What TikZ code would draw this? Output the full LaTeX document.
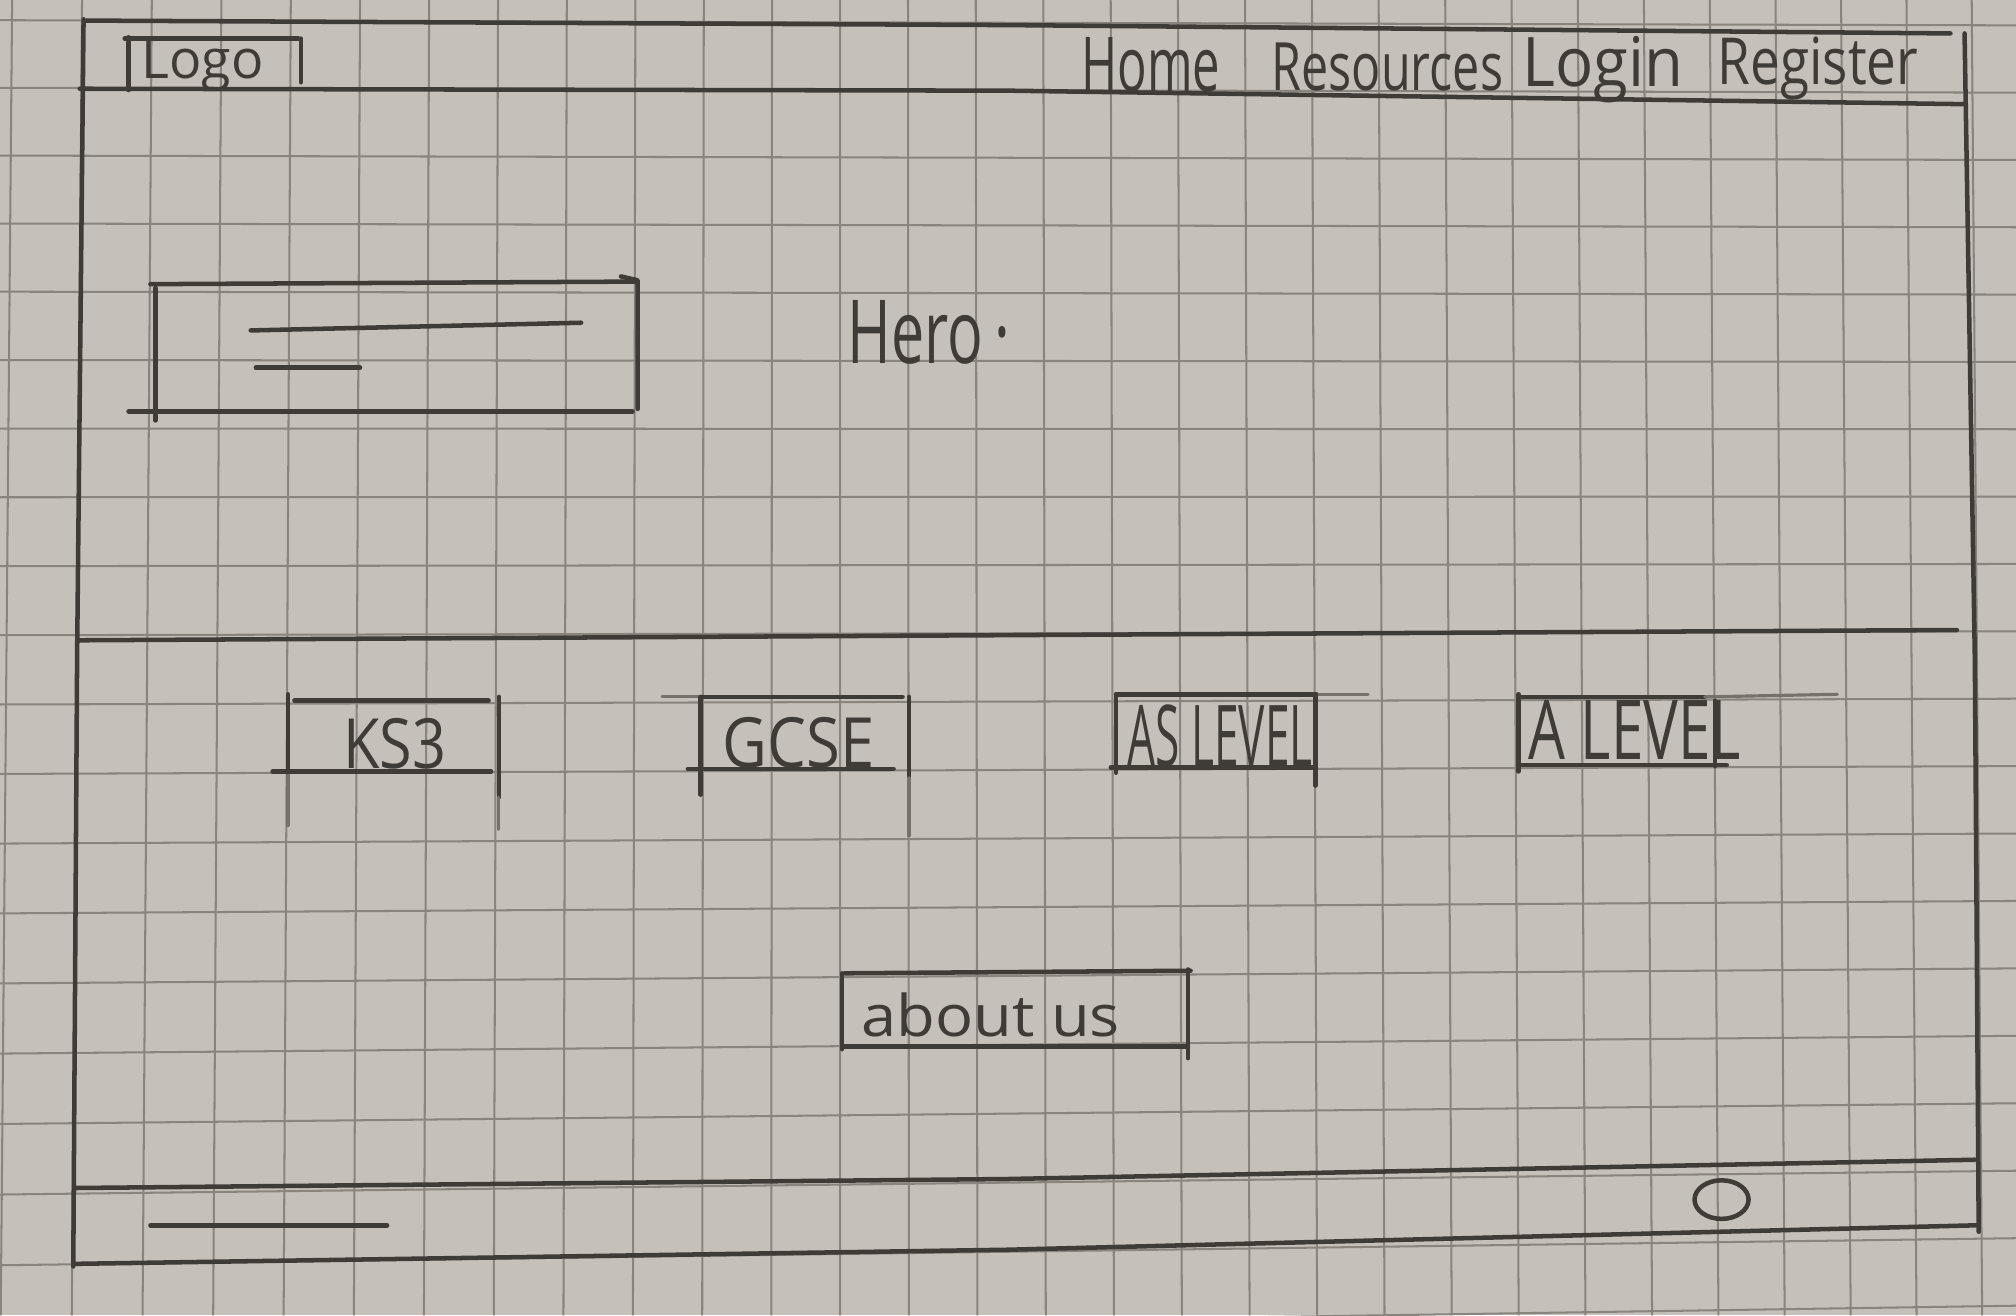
\documentclass[tikz,border=0pt]{standalone}
\usepackage{fontspec}
\setmainfont{Open Sans}
\usepackage{graphicx}
\definecolor{paper}{HTML}{C6C0BA}
\definecolor{gridc}{HTML}{8A847E}
\definecolor{pencil}{HTML}{3F3B37}
\definecolor{faint}{HTML}{77716B}
\newcommand{\fitbox}[3]{\resizebox{#1}{#2}{#3}}
\begin{document}
\begin{tikzpicture}[x=0.01cm,y=-0.01cm,
  pen/.style={draw=pencil,line width=1pt,line cap=round,line join=round},
  faintpen/.style={draw=faint,line width=0.7pt,line cap=round},
  gridline/.style={draw=gridc,line width=0.45pt},
  txt/.style={inner sep=0pt,outer sep=0pt,text=pencil,anchor=base west}]
\fill[paper] (0,0) rectangle (1568,1023);
\useasboundingbox (0,0) rectangle (1568,1023);
% grid paper
\foreach \k in {0,...,29}{
  \pgfmathsetmacro\xt{9+54.49*\k-0.0657*\k*\k}
  \pgfmathsetmacro\xb{2.5+55.12*\k-0.0726*\k*\k}
  \pgfmathsetmacro\xa{\xt-(\xb-\xt)*0.0667}
  \pgfmathsetmacro\xc{\xt+(\xb-\xt)*1.297}
  \draw[gridline] (\xa,0) -- (\xc,1023);
}
\foreach \k in {0,...,19}{
  \pgfmathsetmacro\yl{15.7+52.5*\k+0.0722*\k*\k}
  \pgfmathsetmacro\yr{19.7+52.33*\k+0.0043*\k*\k}
  \draw[gridline] (0,\yl) -- (1568,\yr);
}
% outer frame
\draw[pen] (67,16) -- (784,19.5) -- (1517,26);
\draw[pen] (62,69) -- (784,70.5) -- (1527,81);
\draw[pen] (65,15) -- (60,508) -- (57,985);
\draw[pen] (1528,26) -- (1536,513) -- (1539,958);
\draw[pen] (60,498) -- (784,494) -- (1522,490);
\draw[pen] (58,924) -- (784,917) -- (1536,902);
\draw[pen] (57,983) -- (784,972) -- (1537,953);
% footer marks
\draw[pen] (117,953) -- (301,953);
\draw[pen] (1339,933) ellipse [x radius=21, y radius=15];
% logo bracket
\draw[pen] (100,29) -- (100,70);
\draw[pen] (97,30) -- (232,30);
\draw[pen] (234,30) -- (234,64);
% hero image box
\draw[pen] (117,221) -- (495,219);
\draw[pen] (483,215) -- (496,218) -- (496,318);
\draw[pen] (121,224) -- (121,327);
\draw[pen] (100,320) -- (492,320);
\draw[pen] (195,257) -- (452,251);
\draw[pen] (199,286) -- (280,286);
% KS3 box
\draw[pen] (229,545) -- (380,545);
\draw[pen] (224,540) -- (224,600);
\draw[faintpen] (224,600) -- (224,642);
\draw[pen] (388,542) -- (388,620);
\draw[faintpen] (388,620) -- (388,645);
\draw[pen] (212,600) -- (382,600);
% GCSE box
\draw[faintpen] (515,542) -- (545,542);
\draw[pen] (545,542) -- (702,542);
\draw[pen] (545,542) -- (545,618);
\draw[pen] (707,542) -- (707,605);
\draw[faintpen] (707,605) -- (707,650);
\draw[pen] (535,598) -- (695,598);
% AS LEVEL box
\draw[pen] (868,540) -- (1024,540);
\draw[faintpen] (1024,540) -- (1064,540);
\draw[pen] (868,540) -- (868,601);
\draw[pen] (1023,540) -- (1023,611);
\draw[pen] (864,597) -- (1021,597);
% A LEVEL box
\draw[pen] (1181,542) -- (1326,542);
\draw[faintpen] (1326,542) -- (1429,540);
\draw[pen] (1181,540) -- (1181,600);
\draw[pen] (1334,545) -- (1334,596);
\draw[pen] (1181,595) -- (1343,595);
% about us box
\draw[pen] (657,757) -- (926,755);
\draw[pen] (655,757) -- (655,816);
\draw[pen] (924,754) -- (924,823);
\draw[pen] (655,814) -- (924,814);
% texts
\node[txt] (logo) at (110,61) {\fitbox{0.95cm}{0.30cm}{Logo}};
\node[txt] (home) at (841,71) {\fitbox{1.08cm}{0.42cm}{Home}};
\node[txt] (resources) at (989,70) {\fitbox{1.80cm}{0.37cm}{Resources}};
\node[txt] (login) at (1184,67) {\fitbox{1.25cm}{0.39cm}{Login}};
\node[txt] (register) at (1336,66) {\fitbox{1.56cm}{0.37cm}{Register}};
\node[txt] (hero) at (659,283) {\fitbox{1.27cm}{0.49cm}{Hero\hspace{0.2em}·}};
\node[txt] (ks3) at (267,598) {\fitbox{0.80cm}{0.39cm}{KS3}};
\node[txt] (gcse) at (562,597) {\fitbox{1.18cm}{0.39cm}{GCSE}};
\node[txt] (aslevel) at (877,596) {\fitbox{1.44cm}{0.48cm}{AS LEVEL}};
\node[txt] (alevel) at (1189,591) {\fitbox{1.65cm}{0.46cm}{A LEVEL}};
\node[txt] (about) at (670,806) {\fitbox{2.01cm}{0.34cm}{about us}};
\end{tikzpicture}
\end{document}
